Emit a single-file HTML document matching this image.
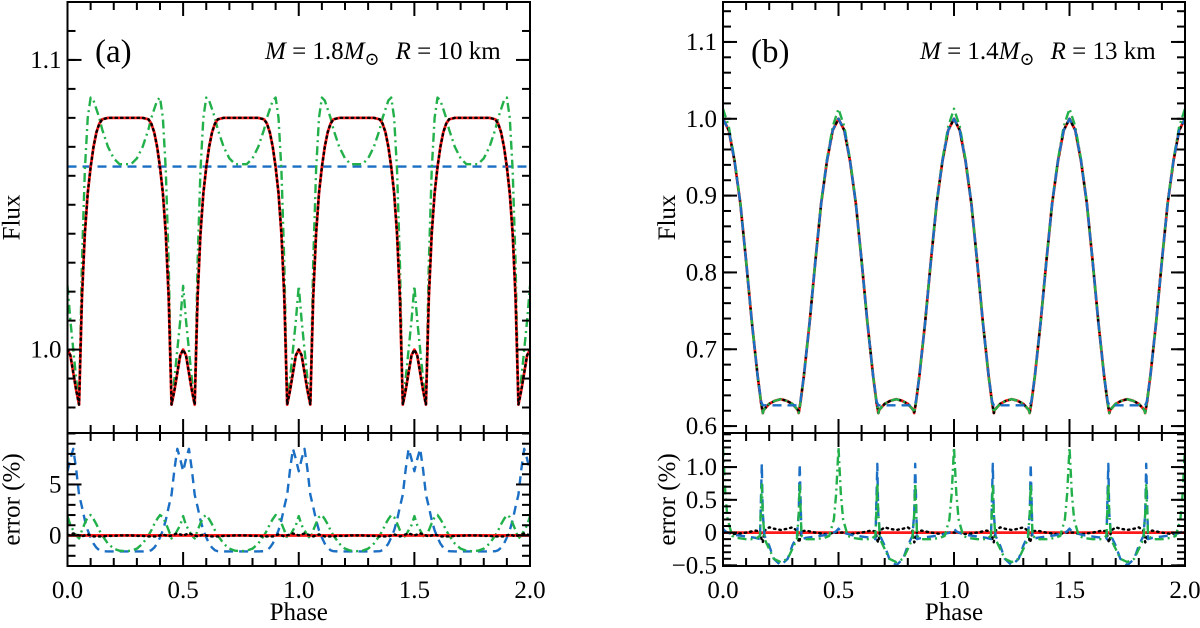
<!DOCTYPE html>
<html><head><meta charset="utf-8"><style>
html,body{margin:0;padding:0;background:#fff;}
svg text{font-family:"Liberation Serif","DejaVu Serif",serif;fill:#000;}
</style></head><body>
<svg id="fig" width="1200" height="623" viewBox="0 0 1200 623" xmlns="http://www.w3.org/2000/svg" font-family="Liberation Serif, serif"></svg>
<script>
// ---- data: half-period (phase 0..0.25), curves are mirrored about 0.25 and repeat every 0.5 ----
const phA = [0,0.0125,0.025,0.0375,0.05,0.0625,0.075,0.0875,0.1,0.1125,0.125,0.1375,0.15,0.175,0.2,0.225,0.25];
const aRed   = [1.000,0.998,0.992,0.986,0.981,1.018,1.040,1.054,1.063,1.070,1.075,1.078,1.0795,1.080,1.080,1.080,1.080];
const aBlack = [1.000,0.998,0.992,0.986,0.981,1.018,1.040,1.054,1.063,1.070,1.075,1.078,1.0795,1.080,1.080,1.080,1.080];
const aGreen = [1.022,1.010,1.000,0.990,0.981,1.030,1.062,1.080,1.087,1.086,1.083,1.080,1.076,1.070,1.066,1.064,1.064];
const aBlue  = [1.0632,1.0632,1.0632,1.0632,1.0632,1.0632,1.0632,1.0632,1.0632,1.0632,1.0632,1.0632,1.0632,1.0632,1.0632,1.0632,1.0632];
const aErrRed   = [0,0,0,0,0,0,0,0,0,0,0,0,0,0,0,0,0];
const aErrBlack = [0,0.1,0.2,0.1,0,-0.1,0,0.1,0,-0.1,-0.1,-0.1,-0.1,-0.05,-0.05,0,0];
const aErrBlue  = [6.3,7.5,8.5,6.5,4.0,2.8,1.5,0.5,-0.2,-0.8,-1.2,-1.45,-1.55,-1.57,-1.57,-1.57,-1.57];
const aErrGreen = [1.9,1.0,0.5,0.0,-0.3,0.5,1.2,1.8,2.0,1.6,1.1,0.5,0.0,-0.8,-1.3,-1.5,-1.55];

const phB = [0,0.025,0.05,0.075,0.1,0.125,0.15,0.165,0.1725,0.176,0.2,0.225,0.25];
const bRed   = [1.000,0.985,0.945,0.890,0.815,0.735,0.665,0.630,0.617,0.621,0.629,0.633,0.635];
const bBlack = [1.000,0.985,0.945,0.890,0.815,0.735,0.665,0.630,0.617,0.621,0.629,0.633,0.635];
const bBlue  = [1.000,0.985,0.945,0.890,0.815,0.735,0.665,0.632,0.627,0.627,0.627,0.627,0.627];
const bGreen = [1.013,0.990,0.947,0.891,0.815,0.735,0.665,0.630,0.617,0.621,0.629,0.633,0.635];
const phBE = [0,0.01,0.02,0.04,0.06,0.1,0.14,0.16,0.168,0.172,0.18,0.2,0.22,0.25];
const bErrRed   = [0,0,0,0,0,0,0,0,0,0,0,0,0,0];
const bErrBlack = [0,0,0,-0.02,-0.02,0,0.03,0.02,-0.12,-0.15,0.03,0.08,0.06,0.04];
const bErrBlue  = [0.06,0.02,0,-0.02,-0.04,-0.06,-0.08,-0.1,1.05,0.3,-0.05,-0.2,-0.4,-0.5];
const bErrGreen = [1.3,0.6,0.2,-0.05,-0.08,-0.1,-0.1,-0.05,0.75,0.3,-0.1,-0.25,-0.4,-0.45];

const yTicksAtop = [1.0,1.1], yTicksAerr=[0,5], yTicksBtop=[0.6,0.7,0.8,0.9,1.0,1.1], yTicksBerr=[-0.5,0,0.5,1.0];
const xTickLabels = ["0.0","0.5","1.0","1.5","2.0"];

const NS="http://www.w3.org/2000/svg", svg=document.getElementById('fig');
const FONT='Liberation Serif, DejaVu Serif, serif';
function el(tag,attrs,parent){const e=document.createElementNS(NS,tag);for(const k in attrs)e.setAttribute(k,attrs[k]);if(tag==='text')e.setAttribute('font-family',FONT);(parent||svg).appendChild(e);return e;}
function expand(ph,vals){const xs=[],ys=[];for(let k=0;k<4;k++){for(let i=0;i<ph.length;i++){xs.push(k*0.5+ph[i]);ys.push(vals[i]);}for(let i=ph.length-2;i>=0;i--){xs.push(k*0.5+0.5-ph[i]);ys.push(vals[i]);}}return [xs,ys];}

function panel(id,L,R,T,M,B,yTop,yBot,eTop,eBot,topTicks,topMinor,errTicks,errMinor,fmt){
  const sx=v=>L+(v/2)*(R-L);
  const sy=v=>T+(yTop-v)/(yTop-yBot)*(M-T);
  const se=v=>M+(eTop-v)/(eTop-eBot)*(B-M);
  const g=el('g',{});
  
  
  const defs=el('defs',{},g);
  const c1=el('clipPath',{id:'c1'+id},defs);el('rect',{x:L,y:T,width:R-L,height:M-T},c1);
  const c2=el('clipPath',{id:'c2'+id},defs);el('rect',{x:L,y:M,width:R-L,height:B-M},c2);
  return {g,sx,sy,se,L,R,T,M,B,yTop,yBot,eTop,eBot,topTicks,topMinor,errTicks,errMinor,fmt,id};
}
function drawLine(P,xs,ys,scale,clip,style,name){
  let d='';for(let i=0;i<xs.length;i++)d+=(i?'L':'M')+P.sx(xs[i]).toFixed(2)+' '+scale(ys[i]).toFixed(2);
  const p=el('path',Object.assign({d,fill:'none','clip-path':'url(#'+clip+')','stroke-linejoin':'round'},style),P.g);
  
  
}
const RED={stroke:'#ff1a1a','stroke-width':2.8};
const BLK={stroke:'#000','stroke-width':2.4,'stroke-dasharray':'1.5 4','stroke-linecap':'round'};
const BLU={stroke:'#1a6fc4','stroke-width':2.4,'stroke-dasharray':'9 6'};
const GRN={stroke:'#22b04a','stroke-width':2.4,'stroke-dasharray':'9 4 2 4'};

function axes(P){
  const g=P.g;
  el('rect',{x:P.L,y:P.T,width:P.R-P.L,height:P.B-P.T,fill:'none',stroke:'#000','stroke-width':2},g);
  el('line',{x1:P.L,x2:P.R,y1:P.M,y2:P.M,stroke:'#000','stroke-width':2},g);
  for(let i=0;i<=20;i++){const v=i*0.1,x=P.sx(v),maj=i%5===0,len=maj?14:8;
    for(const [y,dir] of [[P.T,1],[P.M,-1],[P.M,1],[P.B,-1]]) el('line',{x1:x,x2:x,y1:y,y2:y+dir*len,stroke:'#000','stroke-width':2},g);
  }
  xTickLabels.forEach((t,i)=>{const tx=el('text',{x:P.sx(i*0.5),y:P.B+32,'font-size':25,'text-anchor':'middle'},g);tx.textContent=t;
    });
  const tickY=(vals,scale,major)=>{vals.forEach(v=>{const y=scale(v),len=major?14:8;
    el('line',{x1:P.L,x2:P.L+len,y1:y,y2:y,stroke:'#000','stroke-width':2},g);
    el('line',{x1:P.R,x2:P.R-len,y1:y,y2:y,stroke:'#000','stroke-width':2},g);});};
  tickY(P.topMinor,P.sy,false);tickY(P.topTicks,P.sy,true);
  tickY(P.errMinor,P.se,false);tickY(P.errTicks,P.se,true);
  P.topTicks.forEach(v=>{const t=el('text',{x:P.L-6,y:P.sy(v)+8,'font-size':25,'text-anchor':'end'},g);t.textContent=P.fmt(v);
    });
  P.errTicks.forEach(v=>{const t=el('text',{x:P.L-6,y:P.se(v)+8,'font-size':25,'text-anchor':'end'},g);t.textContent=P.id==='a'?String(v):(v<0?'\u2212'+Math.abs(v).toFixed(1):(v===0?'0':v.toFixed(1)));
    });
  const cx=P.L-48;
  const f=el('text',{x:0,y:0,'font-size':25,'text-anchor':'middle',transform:`translate(${cx},${(P.T+P.M)/2}) rotate(-90)`},g);f.textContent='Flux';
  
  const e=el('text',{x:0,y:0,'font-size':25,'text-anchor':'middle',transform:`translate(${cx},${(P.M+P.B)/2}) rotate(-90)`},g);e.textContent='error (%)';
  
  const ph=el('text',{x:(P.L+P.R)/2,y:620,'font-size':25,'text-anchor':'middle'},g);ph.textContent='Phase';
  
}
function range(a,b,s){const r=[];for(let v=a;v<=b+1e-9;v+=s)r.push(+v.toFixed(4));return r;}

const A=panel('a',67.5,530,2,433,566,1.12,0.9712,10.05,-3.0,yTicksAtop,range(0.98,1.12,0.01),yTicksAerr,range(-3,10,1),v=>v.toFixed(1));
[[aBlue,BLU,'blue-dashed-flux'],[aGreen,GRN,'green-dashdot-flux'],[aRed,RED,'red-flux'],[aBlack,BLK,'black-dotted-flux']].forEach(([v,s,n])=>{const [x,y]=expand(phA,v);drawLine(A,x,y,A.sy,'c1a',s,n);});
[[aErrBlue,BLU,'blue-dashed-error'],[aErrGreen,GRN,'green-dashdot-error'],[aErrRed,RED,'red-error'],[aErrBlack,BLK,'black-dotted-error']].forEach(([v,s,n])=>{const [x,y]=expand(phA,v);drawLine(A,x,y,A.se,'c2a',s,n);});
axes(A);

const B=panel('b',723,1185,2,433,566,1.152,0.591,1.52,-0.51,yTicksBtop,range(0.6,1.15,0.02),yTicksBerr,range(-0.5,1.5,0.1),v=>v.toFixed(1));
[[bRed,RED,'red-flux'],[bBlack,BLK,'black-dotted-flux'],[bGreen,GRN,'green-dashdot-flux'],[bBlue,BLU,'blue-dashed-flux']].forEach(([v,s,n])=>{const [x,y]=expand(phB,v);drawLine(B,x,y,B.sy,'c1b',s,n);});
[[bErrRed,RED,'red-error'],[bErrBlack,BLK,'black-dotted-error'],[bErrBlue,BLU,'blue-dashed-error'],[bErrGreen,GRN,'green-dashdot-error']].forEach(([v,s,n])=>{const [x,y]=expand(phBE,v);drawLine(B,x,y,B.se,'c2b',s,n);});
axes(B);

function annot(x,sx,lab,m,r,name){
  const t=el('text',{x:x,y:62,'font-size':33});t.textContent=lab;
  
  const s=el('text',{x:sx,y:59,'font-size':25});
  
  s.innerHTML=`<tspan font-style="italic">M</tspan> = ${m}<tspan font-style="italic">M</tspan><tspan font-size="18" dy="6">\u2299</tspan><tspan dy="-6" dx="16" font-style="italic">R</tspan> = ${r} km`;
}
annot(95,265,'(a)','1.8','10','panel-a');
annot(751,920,'(b)','1.4','13','panel-b');
</script>
</body></html>
